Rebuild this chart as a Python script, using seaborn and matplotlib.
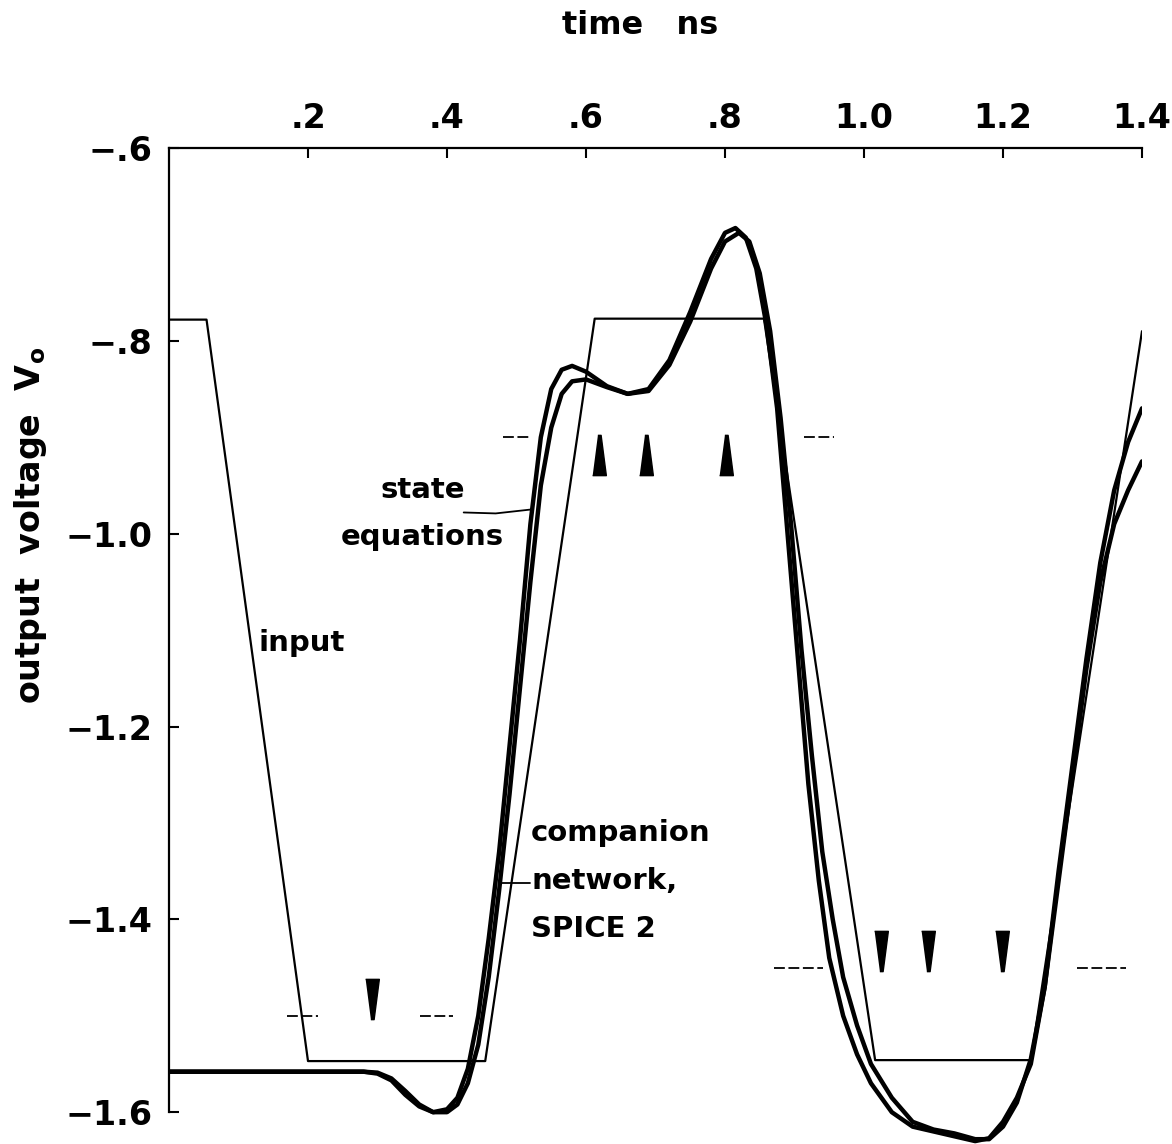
import numpy as np
import pandas as pd
import matplotlib
matplotlib.use("Agg")
import matplotlib.pyplot as plt
import seaborn as sns

# input waveform (time in ns, volts)
INPUT_T = [0.0, 0.054, 0.200, 0.455, 0.6125, 0.856, 1.016, 1.240, 1.400]
INPUT_V = [-0.778, -0.778, -1.547, -1.547, -0.777, -0.777, -1.546, -1.546, -0.79]

# output computed by the state equations
STATE_T = [0.0, 0.28, 0.30, 0.32, 0.34, 0.36, 0.38, 0.40, 0.415, 0.43, 0.445, 0.46,
           0.475, 0.49, 0.505, 0.52, 0.535, 0.55, 0.565, 0.58, 0.60, 0.63, 0.66,
           0.69, 0.72, 0.75, 0.78, 0.80, 0.815, 0.83, 0.845, 0.86, 0.875, 0.89,
           0.905, 0.92, 0.935, 0.95, 0.97, 0.99, 1.01, 1.04, 1.07, 1.10, 1.13,
           1.16, 1.18, 1.20, 1.22, 1.24, 1.26, 1.28, 1.30, 1.32, 1.34, 1.36, 1.38, 1.40]
STATE_V = [-1.558, -1.558, -1.560, -1.567, -1.582, -1.594, -1.600, -1.597, -1.585,
           -1.555, -1.50, -1.42, -1.33, -1.22, -1.11, -0.99, -0.90, -0.85, -0.83,
           -0.826, -0.832, -0.847, -0.855, -0.85, -0.82, -0.77, -0.715, -0.688,
           -0.683, -0.693, -0.725, -0.785, -0.87, -1.00, -1.13, -1.26, -1.36, -1.44,
           -1.50, -1.54, -1.57, -1.60, -1.615, -1.62, -1.625, -1.630, -1.627, -1.61,
           -1.585, -1.55, -1.47, -1.35, -1.24, -1.13, -1.03, -0.955, -0.905, -0.87]

# output of the companion network (SPICE 2)
COMP_T = [0.0, 0.28, 0.30, 0.32, 0.34, 0.36, 0.38, 0.40, 0.415, 0.43, 0.445, 0.46,
          0.475, 0.49, 0.505, 0.52, 0.535, 0.55, 0.565, 0.58, 0.60, 0.63, 0.66,
          0.69, 0.72, 0.75, 0.78, 0.80, 0.82, 0.835, 0.85, 0.865, 0.88, 0.895,
          0.91, 0.925, 0.94, 0.955, 0.97, 0.99, 1.01, 1.04, 1.07, 1.10, 1.13,
          1.16, 1.18, 1.20, 1.22, 1.24, 1.26, 1.28, 1.30, 1.32, 1.34, 1.36, 1.38, 1.40]
COMP_V = [-1.558, -1.558, -1.559, -1.565, -1.578, -1.592, -1.600, -1.600, -1.592,
          -1.57, -1.53, -1.46, -1.37, -1.27, -1.16, -1.05, -0.95, -0.89, -0.855,
          -0.842, -0.840, -0.848, -0.855, -0.852, -0.825, -0.78, -0.725, -0.697,
          -0.688, -0.697, -0.73, -0.79, -0.88, -0.99, -1.12, -1.23, -1.33, -1.40,
          -1.46, -1.51, -1.55, -1.585, -1.61, -1.618, -1.622, -1.628, -1.628, -1.615,
          -1.59, -1.545, -1.47, -1.36, -1.25, -1.14, -1.05, -0.99, -0.955, -0.925]

# timing marks (wedges) and threshold dashes
UP_MARK_T = [0.618, 0.686, 0.802]
UP_MARK_V = [-0.918, -0.918, -0.918]
DOWN_MARK_T = [0.292, 1.025, 1.092, 1.199]
DOWN_MARK_V = [-1.483, -1.4325, -1.4325, -1.4325]
DASH_V = [-0.9, -0.9, -1.45, -1.45, -1.5, -1.5]
DASH_T0 = [0.48, 0.913, 0.870, 1.306, 0.170, 0.361]
DASH_T1 = [0.52, 0.957, 0.941, 1.377, 0.214, 0.408]

X_TICKS = [0.2, 0.4, 0.6, 0.8, 1.0, 1.2, 1.4]
X_LABELS = [".2", ".4", ".6", ".8", "1.0", "1.2", "1.4"]
Y_TICKS = [-0.6, -0.8, -1.0, -1.2, -1.4, -1.6]
Y_LABELS = ["\u2212.6", "\u2212.8", "\u22121.0", "\u22121.2", "\u22121.4", "\u22121.6"]


def main():
    sns.set_style("ticks")
    plt.rcParams["font.family"] = ["DejaVu Sans"]
    plt.rcParams["font.weight"] = "bold"
    plt.rcParams["text.color"] = "black"

    fig = plt.figure(figsize=(11.72, 11.44), dpi=100)
    ax = fig.add_axes([169 / 1172, 0.0, (1142 - 169) / 1172, 996 / 1144])

    inp = pd.DataFrame({"t": INPUT_T, "v": INPUT_V})
    state = pd.DataFrame({"t": STATE_T, "v": STATE_V})
    comp = pd.DataFrame({"t": COMP_T, "v": COMP_V})

    sns.lineplot(data=inp, x="t", y="v", ax=ax, sort=False, estimator=None,
                 color="black", lw=1.6)
    sns.lineplot(data=state, x="t", y="v", ax=ax, sort=False, estimator=None,
                 color="black", lw=3.2)
    sns.lineplot(data=comp, x="t", y="v", ax=ax, sort=False, estimator=None,
                 color="black", lw=3.2)

    up = [(-0.17, -0.5), (0.17, -0.5), (0.04, 0.5), (-0.04, 0.5)]
    down = [(x, -y) for x, y in up]
    ax.plot(UP_MARK_T, UP_MARK_V, ls="none", marker=up, ms=29, color="black")
    ax.plot(DOWN_MARK_T, DOWN_MARK_V, ls="none", marker=down, ms=29, color="black")
    ax.hlines(DASH_V, DASH_T0, DASH_T1, color="black", lw=1.3, linestyles=(0, (6, 2)))

    # labels on the curves
    ax.text(0.365, -0.979, "state\nequations", ha="center", va="center",
            fontsize=21, linespacing=1.9)
    ax.plot([0.424, 0.47, 0.52], [-0.978, -0.979, -0.975], color="black", lw=1.3)
    ax.text(0.129, -1.113, "input", ha="left", va="center", fontsize=21)
    ax.text(0.521, -1.36, "companion\nnetwork,\nSPICE 2", ha="left", va="center",
            fontsize=21, linespacing=1.9)
    ax.plot([0.478, 0.519], [-1.362, -1.362], color="black", lw=1.3)

    ax.set_xlim(0, 1.4)
    ax.set_ylim(-1.633, -0.6)
    ax.xaxis.tick_top()
    ax.set_xticks(X_TICKS, X_LABELS)
    ax.set_yticks(Y_TICKS, Y_LABELS)
    ax.tick_params(axis="both", direction="in", length=7, width=1.5, labelsize=24,
                   colors="black")
    ax.tick_params(axis="x", pad=9)
    ax.tick_params(axis="y", pad=12)
    ax.set_xlabel("")
    ax.set_ylabel("")
    for side in ["right", "bottom"]:
        ax.spines[side].set_visible(False)
    ax.spines["left"].set_bounds(-1.6, -0.6)
    for side in ["left", "top"]:
        ax.spines[side].set_linewidth(1.6)
        ax.spines[side].set_color("black")

    fig.text(640 / 1172, 1 - 25 / 1144, "time   ns", ha="center", va="center",
             fontsize=23)
    fig.text(31 / 1172, 1 - 525 / 1144, "output  voltage  V$_\\mathregular{o}$",
             ha="center", va="center", rotation=90, fontsize=24)

    fig.savefig("out.png", dpi=100, facecolor="white")


if __name__ == "__main__":
    main()
